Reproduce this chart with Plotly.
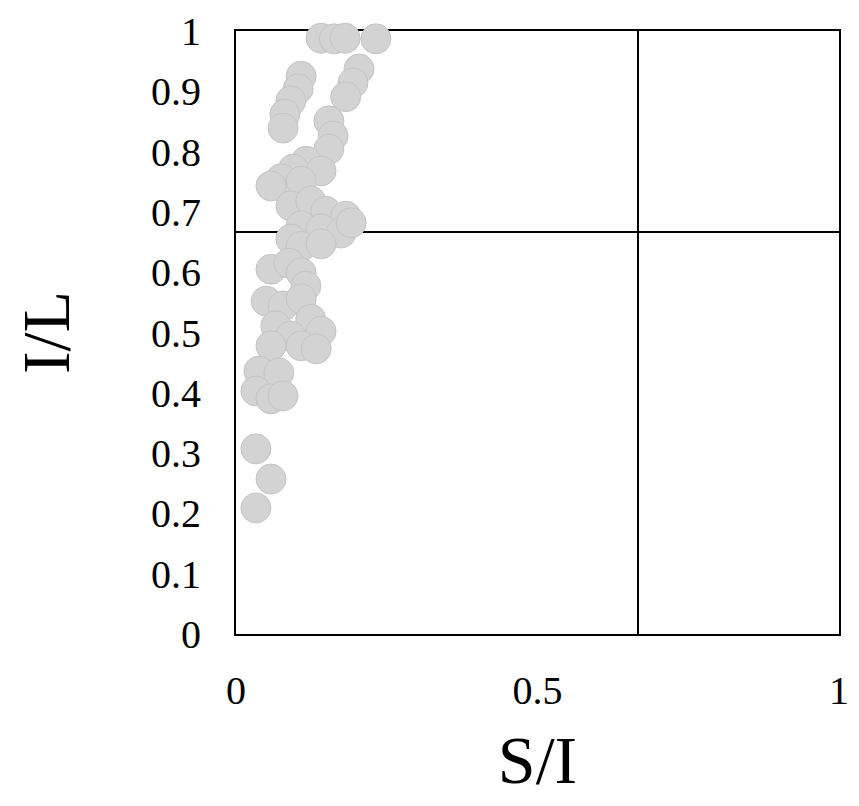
import plotly.graph_objects as go

# S/I vs I/L readings
si = [0.141, 0.163, 0.181, 0.232, 0.204, 0.194, 0.182, 0.108, 0.103, 0.091,
      0.081, 0.078, 0.154, 0.161, 0.154, 0.116, 0.095, 0.075, 0.141, 0.108,
      0.058, 0.091, 0.124, 0.149, 0.182, 0.108, 0.141, 0.091, 0.174, 0.191,
      0.108, 0.141, 0.058, 0.088, 0.108, 0.116, 0.050, 0.078, 0.108, 0.124,
      0.141, 0.066, 0.091, 0.108, 0.133, 0.058, 0.038, 0.071, 0.033, 0.058,
      0.078, 0.033, 0.058, 0.033]
il = [0.988, 0.987, 0.988, 0.987, 0.937, 0.914, 0.891, 0.925, 0.904, 0.884,
      0.862, 0.839, 0.851, 0.826, 0.804, 0.784, 0.771, 0.755, 0.768, 0.751,
      0.743, 0.710, 0.718, 0.701, 0.693, 0.677, 0.672, 0.655, 0.665, 0.682,
      0.643, 0.647, 0.605, 0.615, 0.599, 0.577, 0.552, 0.544, 0.556, 0.522,
      0.502, 0.511, 0.494, 0.478, 0.473, 0.478, 0.436, 0.433, 0.403, 0.390,
      0.395, 0.307, 0.257, 0.209]

threshold = 2 / 3
serif = "Liberation Serif, Times New Roman, serif"

fig = go.Figure()

fig.add_trace(go.Scatter(
    x=si, y=il, mode='markers',
    marker=dict(size=30, color='#d3d3d3', line=dict(color='#c4c4c4', width=1)),
    cliponaxis=False, showlegend=False
))

# quadrant dividers, drawn under the points
fig.add_shape(type='line', x0=threshold, x1=threshold, y0=0, y1=1, layer='below',
              line=dict(color='black', width=2))
fig.add_shape(type='line', x0=0, x1=1, y0=threshold, y1=threshold, layer='below',
              line=dict(color='black', width=2))

fig.update_layout(
    width=859, height=806,
    margin=dict(l=228, r=28, t=23, b=180),
    paper_bgcolor='white', plot_bgcolor='white',
    font=dict(family=serif, color='black'),
)
fig.update_xaxes(
    range=[0, 1], tickvals=[0, 0.5, 1], ticktext=['0', '0.5', '1'],
    showgrid=False, zeroline=False, showline=True, linecolor='black',
    linewidth=2, mirror=True, ticks='', ticklabelstandoff=20,
    automargin=False, layer='below traces',
    tickfont=dict(size=40, family=serif),
    title=dict(text='S/I', font=dict(size=68, family=serif), standoff=23),
)
fig.update_yaxes(
    range=[0, 1], tickvals=[i / 10 for i in range(11)],
    ticktext=['0'] + [f'0.{i}' for i in range(1, 10)] + ['1'],
    showgrid=False, zeroline=False, showline=True, linecolor='black',
    linewidth=2, mirror=True, ticks='', ticklabelstandoff=25,
    automargin=False, layer='below traces',
    tickfont=dict(size=40, family=serif),
    title=dict(text='I/L', font=dict(size=68, family=serif), standoff=66),
)

fig.write_html("out.html")
